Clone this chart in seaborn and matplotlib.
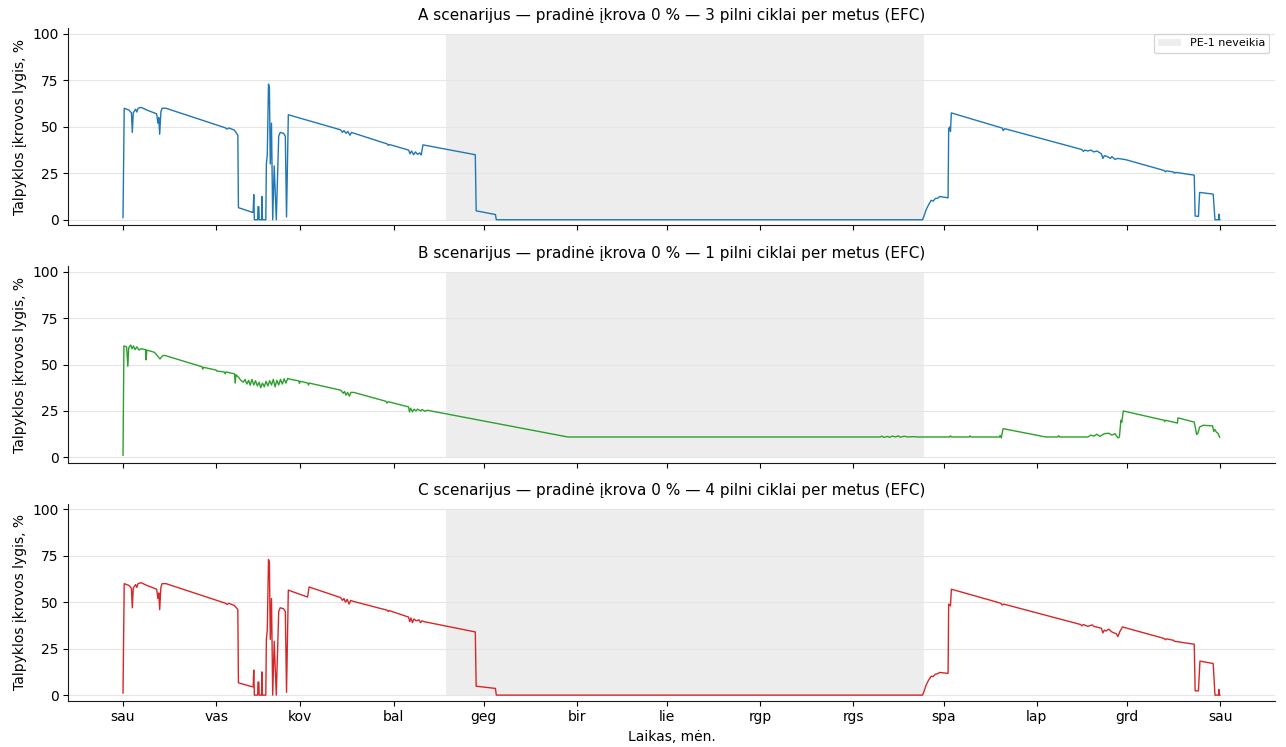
import pandas as pd
import numpy as np
import matplotlib.pyplot as plt
import matplotlib.dates as mdates
from matplotlib.ticker import FuncFormatter
import seaborn as sns

sns.set_style("ticks")
plt.rcParams['font.family'] = ['DejaVu Sans']
plt.rcParams.update({
    'text.color': 'black',
    'axes.labelcolor': 'black',
    'xtick.color': 'black',
    'ytick.color': 'black',
    'axes.edgecolor': '0.1',
})

MONTHS_LT = ["sau", "vas", "kov", "bal", "geg", "bir", "lie", "rgp", "rgs", "spa", "lap", "grd"]
START = pd.Timestamp("2023-01-01")
OFF_START_DAY = 107.3   # PE-1 neveikia
OFF_END_DAY = 266.4

# --- A scenarijus (3 EFC) : diena metuose, įkrovos lygis %
days_a = [0.0, 0.4, 2.0, 2.8, 3.1, 3.4, 4.2, 4.6, 5.0, 6.0, 8.0, 11.2, 11.6, 11.9, 12.2, 12.6, 13.0, 14.3,
          34.0, 34.6, 35.2, 37.0, 38.0, 38.2, 38.4, 43.0, 43.3, 43.5, 43.7, 44.8, 44.9, 45.2, 45.3, 46.1, 46.2,
          46.4, 47.5, 47.7, 48.0, 48.4, 48.7, 49.0, 49.4, 49.8, 50.3, 51.0, 51.8, 52.3, 53.4, 54.0, 54.4, 55.0,
          72.4, 73.0, 73.5, 74.2, 74.8, 75.5, 76.0, 87.9, 88.3, 88.6, 95.0, 95.5, 96.0, 96.7, 97.3, 98.0, 98.7,
          99.2, 99.8, 117.2, 117.5, 123.9, 124.2, 266.0, 266.5, 267.2, 268.0, 268.9, 269.5, 270.3, 271.0, 271.7,
          274.5, 274.7, 275.1, 275.3, 275.6, 292.6, 292.8, 293.4, 319.0, 319.5, 320.0, 321.0, 322.0, 323.0, 324.0,
          325.5, 326.0, 326.5, 327.5, 328.5, 329.0, 330.0, 331.0, 333.7, 346.4, 346.8, 347.2, 349.5, 349.8, 350.2,
          356.4, 356.7, 357.8, 358.2, 362.7, 363.3, 364.5, 364.6, 364.8, 365.0]
soc_a = [1, 60, 59, 57.5, 47, 57.5, 59.5, 58, 60, 60.5, 59, 57, 52, 55, 46, 58, 60, 60,
         49.5, 48.8, 49.4, 48.3, 46, 45.5, 6.5, 4, 4, 13.5, 0, 0, 7, 7, 0, 0, 12.5,
         0, 0, 30, 35, 73, 71.5, 30, 52, 0, 29, 0, 45, 47, 46.5, 45, 1.5, 56.5,
         48.4, 47, 48, 46.5, 47.5, 45.5, 47, 40.8, 40, 40.5, 37.5, 35.5, 37, 35, 36.5, 35.2, 36,
         34.8, 40.3, 35, 4.8, 2.8, 0, 0, 2, 5.4, 8, 10.5, 10, 11.5, 11.5, 12.5,
         11.8, 49, 50, 47.5, 57.5, 49.3, 48, 49, 37.8, 36.8, 37.5, 37, 37.5, 36.5, 37,
         35.5, 33, 34.5, 34, 33, 34, 32.5, 33, 32.3, 26.5, 25.8, 26.3, 25.7, 25, 25.5,
         24, 2, 1.8, 14.7, 13.8, 0, 0, 3, 0, 0]

# --- B scenarijus (1 EFC)
days_b = [0.0, 0.3, 1.2, 1.6, 1.9, 2.6, 3.0, 3.5, 4.0, 4.6, 5.3, 6.0, 7.5, 7.7, 7.9, 10.4, 11.3, 12.3, 13.0, 13.7,
          26.3, 26.5, 26.8, 31.0, 31.2, 33.7, 34.0, 34.3, 37.1, 37.3, 37.6, 38.5, 39.2, 40.0, 40.6, 41.2, 41.8,
          42.3, 42.9, 43.5, 44.1, 44.7, 45.3, 45.8, 46.4, 47.0, 47.6, 48.2, 48.8, 49.4, 50.0, 50.6, 51.2, 51.8,
          52.4, 53.0, 53.6, 54.2, 54.8, 55.8, 58.5, 58.7, 59.0, 61.5, 61.7, 62.0, 72.4, 73.3, 73.7, 74.2, 74.7,
          75.3, 75.8, 76.8, 87.5, 87.8, 88.2, 95.0, 95.3, 95.7, 96.3, 96.8, 97.5, 98.0, 99.0, 99.5, 100.5, 101.2,
          148.0, 252.0, 252.5, 253.0, 254.5, 255.0, 256.0, 257.0, 258.0, 258.5, 260.0, 261.0, 263.0, 264.0,
          275.0, 275.3, 275.6, 281.5, 281.8, 282.1, 291.6, 291.8, 292.2, 292.8, 307.0, 311.0, 311.3, 311.6, 321.0,
          322.0, 323.0, 324.0, 325.0, 326.5, 328.0, 329.0, 330.0, 331.0, 331.5, 332.0, 332.3, 332.8, 346.4, 346.6,
          346.9, 350.8, 351.0, 356.4, 357.2, 357.6, 358.2, 359.4, 362.5, 362.9, 363.3, 363.8, 364.3, 364.9]
soc_b = [1, 60, 59.5, 49, 59, 60.5, 58.5, 60, 58, 59.5, 57.8, 58.5, 58, 52.5, 57.8, 56.6, 55, 53, 54.5, 55,
         48.8, 47.5, 48.5, 47, 46.5, 46, 45, 46, 45, 40, 44.5, 43, 41.5, 40.5, 42, 39.5, 41.5,
         38.8, 42, 39, 41.3, 38.5, 40.5, 37.5, 40, 38, 41, 38.5, 41.3, 39, 42, 38, 41.5, 39,
         42, 39.5, 42.3, 40, 42.5, 42, 41.2, 39.8, 41, 40, 39, 40, 36.2, 34.5, 35.5, 33.5, 35,
         33, 35, 35, 30.2, 29.3, 30, 27.2, 24.5, 26.5, 24.5, 26, 25, 26, 25, 25.8, 24.8, 25.4,
         11, 11, 11.5, 10.8, 11.3, 10.8, 11.5, 11, 11.6, 10.9, 11.4, 11, 11.2, 11,
         11, 11.6, 11, 11, 11.6, 11, 11, 11.8, 10.5, 15.5, 11, 11, 11.7, 11, 11,
         12, 11.5, 12.5, 11.3, 12.8, 13, 12, 12.8, 10.5, 11, 20, 19, 25, 20, 19.3,
         20, 18.5, 21.3, 19, 12.3, 13, 16.4, 17.3, 17, 14, 15, 13.5, 13, 10.7]

# --- C scenarijus (4 EFC)
days_c = [0.0, 0.4, 2.0, 2.8, 3.1, 3.4, 4.2, 4.6, 5.0, 6.0, 8.0, 11.2, 11.6, 11.9, 12.2, 12.6, 13.0, 14.3,
          34.0, 34.6, 35.2, 37.0, 38.0, 38.2, 38.4, 43.0, 43.3, 43.5, 43.7, 44.8, 44.9, 45.2, 45.3, 46.1, 46.2,
          46.4, 47.5, 47.7, 48.0, 48.4, 48.7, 49.0, 49.4, 49.8, 50.3, 51.0, 51.8, 52.3, 53.4, 54.0, 54.4, 55.0,
          61.4, 61.9, 72.4, 73.0, 73.5, 74.0, 74.6, 75.2, 75.8, 76.5, 87.9, 88.3, 88.6, 95.0, 95.4, 95.8, 96.3,
          96.8, 97.5, 98.5, 99.0, 99.5, 100.0, 117.2, 117.5, 123.9, 124.2, 266.0, 266.5, 267.2, 268.0, 268.9,
          269.5, 270.3, 271.0, 271.7, 274.5, 274.7, 275.3, 275.6, 292.0, 292.5, 293.0, 318.6, 319.0, 319.5, 321.0,
          322.5, 323.0, 325.5, 326.0, 326.5, 327.0, 328.0, 329.0, 330.5, 331.0, 331.6, 332.5, 346.4, 346.8, 347.2,
          349.5, 349.8, 356.4, 356.7, 357.8, 358.3, 362.7, 363.3, 364.5, 364.6, 364.8, 365.0]
soc_c = [1, 60, 59, 57.5, 47, 57.5, 59.5, 58, 60, 60.5, 59, 57, 52, 55, 46, 58, 60, 60,
         49.5, 48.8, 49.4, 48.3, 46.5, 46, 6.6, 4.5, 4.5, 13.5, 0, 0, 7, 7, 0, 0, 12.5,
         0, 0, 30, 35, 73, 71.5, 30, 52, 0, 29, 0, 45, 47, 46.5, 45, 1.5, 56.5,
         52.8, 58.2, 52.5, 51, 52, 50, 51.5, 49, 51, 50.5, 45.7, 45, 45.5, 42, 39.5, 41.5, 39,
         41, 40, 40.5, 39, 40, 39.6, 34, 4.8, 3.6, 0, 0, 2, 5.4, 8, 10.2,
         10, 11.3, 11.5, 12.2, 11.7, 49, 48, 57, 49.5, 48.5, 49, 38, 37.3, 38, 37,
         37.8, 37, 36, 33.5, 35, 34.5, 35.5, 34, 33, 31.5, 34, 36.7, 30.5, 29.8, 30.3,
         29.5, 29, 27.4, 2.3, 2.3, 18.3, 17, 0, 0, 3, 0, 0]

panels = [
    ("A scenarijus — pradinė įkrova 0 % — 3 pilni ciklai per metus (EFC)", days_a, soc_a, "tab:blue"),
    ("B scenarijus — pradinė įkrova 0 % — 1 pilni ciklai per metus (EFC)", days_b, soc_b, "tab:green"),
    ("C scenarijus — pradinė įkrova 0 % — 4 pilni ciklai per metus (EFC)", days_c, soc_c, "tab:red"),
]


def to_time(days):
    return START + pd.to_timedelta(np.asarray(days, dtype=float), unit="D")


fig, axes = plt.subplots(3, 1, figsize=(12.86, 7.47), dpi=100, sharex=True)
fig.subplots_adjust(left=0.053, right=0.9914, top=0.962, bottom=0.062, hspace=0.207)

off_span = to_time([OFF_START_DAY, OFF_END_DAY])

for i, (title, days, soc, color) in enumerate(panels):
    ax = axes[i]
    df = pd.DataFrame({"laikas": to_time(days), "soc": soc})
    # neveikimo laikotarpis: 0–100 %
    ax.fill_between(off_span, 0, 100, color="lightgray", alpha=0.4, lw=0,
                    label="PE-1 neveikia", zorder=0)
    sns.lineplot(data=df, x="laikas", y="soc", ax=ax, color=color, linewidth=1.0,
                 estimator=None, sort=False, legend=False)
    ax.set_title(title, fontsize=11)
    ax.set_ylabel("Talpyklos įkrovos lygis, %", fontsize=10)
    ax.set_xlabel("")
    ax.set_ylim(-3, 103)
    ax.set_yticks([0, 25, 50, 75, 100])
    ax.grid(axis="y", color="#e5e5e5", linewidth=0.8)
    ax.set_axisbelow(True)
    ax.tick_params(labelsize=10)
    sns.despine(ax=ax)
    if i == 0:
        ax.legend(loc="upper right", fontsize=8, frameon=True, fancybox=True, framealpha=0.8)

ax = axes[-1]
ax.xaxis.set_major_locator(mdates.MonthLocator())
ax.xaxis.set_major_formatter(FuncFormatter(lambda x, pos: MONTHS_LT[mdates.num2date(x).month - 1]))
ax.set_xlabel("Laikas, mėn.", fontsize=10)

fig.savefig("out.png", dpi=100)
